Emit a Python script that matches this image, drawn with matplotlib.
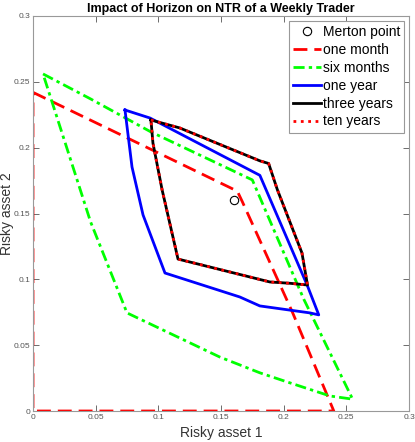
import matplotlib.pyplot as plt

plt.rcParams['font.family'] = ['Liberation Sans', 'DejaVu Sans']

# Merton point
merton = (0.16, 0.16)

# one month (red dashed)
m1_x = [0.0, 0.05, 0.10, 0.163, 0.167, 0.207, 0.240, 0.0, 0.0]
m1_y = [0.242, 0.219, 0.196, 0.167, 0.159, 0.075, 0.0, 0.0, 0.242]

# six months (green dash-dot)
m6_x = [0.008, 0.046, 0.094, 0.175, 0.216, 0.255, 0.237, 0.203, 0.181, 0.149, 0.075, 0.046, 0.008]
m6_y = [0.256, 0.237, 0.212, 0.1755, 0.085, 0.009, 0.0114, 0.022, 0.029, 0.041, 0.0745, 0.1435, 0.256]

# one year (blue solid)
y1_x = [0.0734, 0.0934, 0.181, 0.219, 0.228, 0.221, 0.181, 0.165, 0.1053, 0.0878, 0.079, 0.0734]
y1_y = [0.2286, 0.2225, 0.179, 0.095, 0.073, 0.0745, 0.0798, 0.0866, 0.1048, 0.1489, 0.1853, 0.2286]

# three / ten years (same region)
y3_x = [0.0941, 0.117, 0.181, 0.188, 0.195, 0.2146, 0.219, 0.205, 0.189, 0.1157, 0.103, 0.0957, 0.0941]
y3_y = [0.221, 0.215, 0.190, 0.188, 0.168, 0.120, 0.0957, 0.097, 0.098, 0.1154, 0.168, 0.2035, 0.221]
y10_x = y3_x
y10_y = y3_y

fig = plt.figure(figsize=(4.15, 4.42), dpi=100)
ax = fig.add_axes([33/415, 1-411/442, 376/415, 395/442])

ax.plot(merton[0], merton[1], 'o', mfc='none', mec='k', ms=6, mew=0.8, label='Merton point')
ax.plot(m1_x, m1_y, color='red', lw=2, dashes=(5, 2.5), label='one month')
ax.plot(m6_x, m6_y, color='#00ff00', lw=2, dashes=(4, 1.5, 1.2, 1.5), label='six months')
ax.plot(y1_x, y1_y, color='blue', lw=2, label='one year')
ax.plot(y3_x, y3_y, color='black', lw=2, label='three years')
ax.plot(y10_x, y10_y, color='red', lw=2, ls=':', label='ten years')

ax.set_xlim(0, 0.3)
ax.set_ylim(0, 0.3)
ticks = [0, 0.05, 0.1, 0.15, 0.2, 0.25, 0.3]
ticklabels = ['0', '0.05', '0.1', '0.15', '0.2', '0.25', '0.3']
ax.set_xticks(ticks)
ax.set_xticklabels(ticklabels)
ax.set_yticks(ticks)
ax.set_yticklabels(ticklabels)
ax.tick_params(direction='in', top=True, right=True, labelsize=6, colors='#555555',
               length=4, width=0.6, pad=2)
for s in ax.spines.values():
    s.set_color('#999999')
    s.set_linewidth(0.8)

ax.set_title('Impact of Horizon on NTR of a Weekly Trader', fontsize=9, fontweight='bold', pad=3)
ax.set_xlabel('Risky asset 1', fontsize=10, color='#333333', labelpad=4)
ax.set_ylabel('Risky asset 2', fontsize=10, color='#333333', labelpad=0)

leg = ax.legend(loc='upper right', fontsize=10, handlelength=2.0, handletextpad=0.1,
                borderpad=0.3, labelspacing=0.28, fancybox=False, framealpha=1,
                borderaxespad=0.35)
leg.get_frame().set_edgecolor('#999999')
leg.get_frame().set_linewidth(0.8)

fig.savefig('out.png', dpi=100)
